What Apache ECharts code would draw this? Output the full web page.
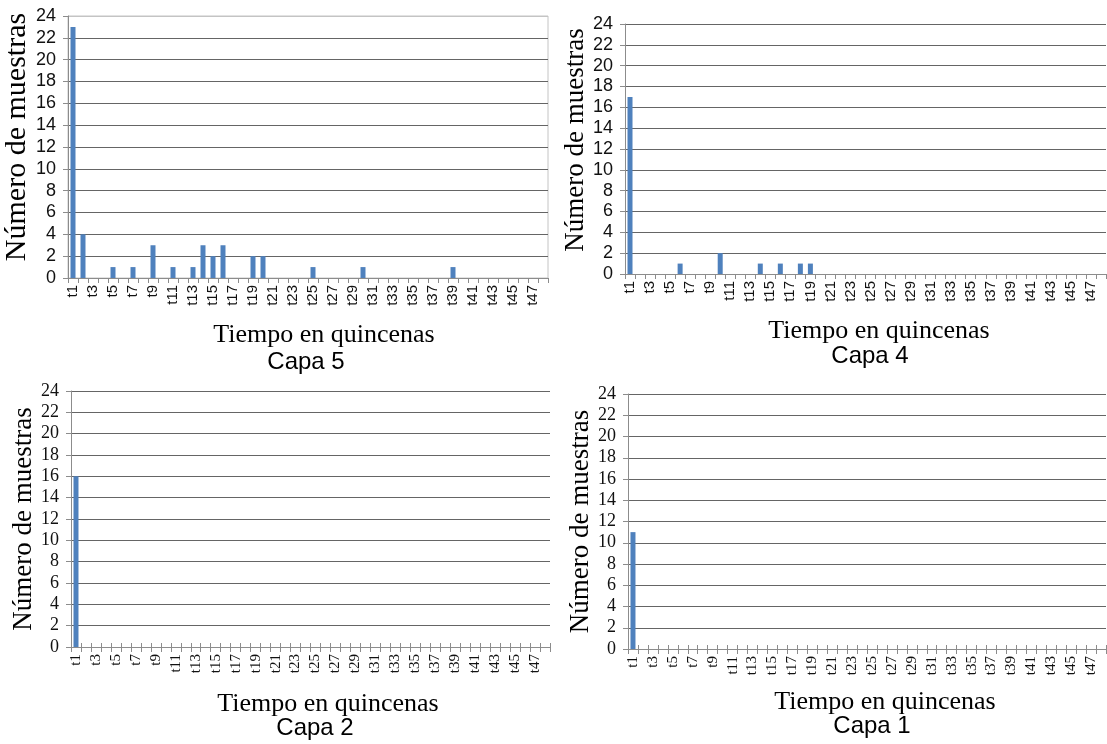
<!DOCTYPE html>
<html>
<head>
<meta charset="utf-8">
<script src="https://cdn.jsdelivr.net/npm/echarts@6/dist/echarts.min.js"></script>
<style>
  html, body { margin: 0; padding: 0; background: #fff; }
  #chart { width: 1107px; height: 744px; }
</style>
</head>
<body>
<div id="chart"></div>
<script>
var quincenas = ['t1', 't2', 't3', 't4', 't5', 't6', 't7', 't8', 't9', 't10', 't11', 't12',
  't13', 't14', 't15', 't16', 't17', 't18', 't19', 't20', 't21', 't22', 't23', 't24',
  't25', 't26', 't27', 't28', 't29', 't30', 't31', 't32', 't33', 't34', 't35', 't36',
  't37', 't38', 't39', 't40', 't41', 't42', 't43', 't44', 't45', 't46', 't47', 't48'];

// muestras por quincena, una lista por capa
var capa5 = [23, 4, 0, 0, 1, 0, 1, 0, 3, 0, 1, 0,
  1, 3, 2, 3, 0, 0, 2, 2, 0, 0, 0, 0,
  1, 0, 0, 0, 0, 1, 0, 0, 0, 0, 0, 0,
  0, 0, 1, 0, 0, 0, 0, 0, 0, 0, 0, 0];
var capa4 = [17, 0, 0, 0, 0, 1, 0, 0, 0, 2, 0, 0,
  0, 1, 0, 1, 0, 1, 1, 0, 0, 0, 0, 0,
  0, 0, 0, 0, 0, 0, 0, 0, 0, 0, 0, 0,
  0, 0, 0, 0, 0, 0, 0, 0, 0, 0, 0, 0];
var capa2 = [16, 0, 0, 0, 0, 0, 0, 0, 0, 0, 0, 0,
  0, 0, 0, 0, 0, 0, 0, 0, 0, 0, 0, 0,
  0, 0, 0, 0, 0, 0, 0, 0, 0, 0, 0, 0,
  0, 0, 0, 0, 0, 0, 0, 0, 0, 0, 0, 0];
var capa1 = [11, 0, 0, 0, 0, 0, 0, 0, 0, 0, 0, 0,
  0, 0, 0, 0, 0, 0, 0, 0, 0, 0, 0, 0,
  0, 0, 0, 0, 0, 0, 0, 0, 0, 0, 0, 0,
  0, 0, 0, 0, 0, 0, 0, 0, 0, 0, 0, 0];

var titulos = ['Capa 5', 'Capa 4', 'Capa 2', 'Capa 1'];
var yMin = 0, yMax = 24, yStep = 2;

var SANS = 'Liberation Sans, Arial, sans-serif';
var SERIF = 'Liberation Serif, Times New Roman, serif';
var gridColor = '#656565';
var axisColor = '#8c8c8c';

// one panel per capa: grid box, fonts and name offsets
var panels = [
  { data: capa5, grid: { left: 68, right: 559, top: 16, bottom: 466 }, tickFont: SANS, tickSize: 18, catSize: 15,
    yGap: 33, yPad: [0, 0, 0, 20], ySize: 30, xGap: 44, xPad: [0, 0, 0, 32], border: true, cross: false, title: [306, 362] },
  { data: capa4, grid: { left: 625, right: 1, top: 24, bottom: 470 }, tickFont: SANS, tickSize: 18, catSize: 15,
    yGap: 26, yPad: [0, 0, 0, 18], ySize: 27, xGap: 44, xPad: [0, 0, 0, 27], border: false, cross: false, title: [870, 356] },
  { data: capa2, grid: { left: 71, right: 557, top: 391, bottom: 97 }, tickFont: SERIF, tickSize: 18, catSize: 15,
    yGap: 29, yPad: 0, ySize: 27, xGap: 44, xPad: [0, 0, 0, 35], border: false, cross: true, title: [315, 728] },
  { data: capa1, grid: { left: 628, right: 1, top: 394, bottom: 95 }, tickFont: SERIF, tickSize: 18, catSize: 15,
    yGap: 31, yPad: 0, ySize: 27, xGap: 40, xPad: [0, 0, 0, 36], border: false, cross: true, title: [872, 726] }
];

var grids = [], xAxes = [], yAxes = [], series = [], texts = [];

panels.forEach(function(p, i) {
  grids.push({
    left: p.grid.left, right: p.grid.right, top: p.grid.top, bottom: p.grid.bottom,
    show: p.border, borderColor: '#c4c4c4', borderWidth: 1
  });

  // top gridline is the light border in the first panel
  var split = [];
  for (var k = 0; k <= (yMax - yMin) / yStep; k++) {
    split.push(p.border && k === (yMax - yMin) / yStep ? '#c4c4c4' : gridColor);
  }

  xAxes.push({
    type: 'category', gridIndex: i, data: quincenas, boundaryGap: true,
    name: 'Tiempo en quincenas', nameLocation: 'middle', nameGap: p.xGap,
    nameTextStyle: { fontFamily: SERIF, fontSize: 26, color: '#000', padding: p.xPad },
    axisLine: { lineStyle: { color: axisColor, width: 1 } },
    axisTick: { show: true, interval: 0, length: 5, lineStyle: { color: axisColor } },
    axisLabel: { interval: 1, rotate: 90, margin: 7, fontFamily: p.tickFont, fontSize: p.catSize, color: '#111' },
    splitLine: { show: false }
  });

  yAxes.push({
    type: 'value', gridIndex: i, min: yMin, max: yMax, interval: yStep,
    name: 'Número de muestras', nameLocation: 'middle', nameGap: p.yGap,
    nameTextStyle: { fontFamily: SERIF, fontSize: p.ySize, color: '#000', padding: p.yPad },
    axisLine: { show: true, lineStyle: { color: axisColor, width: 1 } },
    axisTick: { show: true, length: 5, lineStyle: { color: axisColor } },
    axisLabel: { margin: 12, fontFamily: p.tickFont, fontSize: p.tickSize, color: '#111' },
    splitLine: { show: true, lineStyle: { color: split, width: 1 } }
  });

  series.push({
    type: 'bar', xAxisIndex: i, yAxisIndex: i, data: p.data,
    barWidth: 5, itemStyle: { color: '#4f81bd' }, silent: true
  });

  texts.push({
    type: 'text', x: p.title[0], y: p.title[1],
    style: { text: titulos[i], fontFamily: SANS, fontSize: 24, fill: '#000',
      textAlign: 'center', textVerticalAlign: 'middle' }
  });
});

// bottom row: ticks cross the axis, so add an inner-tick copy of the category axis
panels.forEach(function(p, i) {
  if (!p.cross) return;
  xAxes.push({
    type: 'category', gridIndex: i, data: quincenas, boundaryGap: true, position: 'bottom',
    axisLine: { show: false },
    axisTick: { show: true, inside: true, interval: 0, length: 4, lineStyle: { color: axisColor } },
    axisLabel: { show: false },
    splitLine: { show: false }
  });
});

var myChart = echarts.init(document.getElementById('chart'), null, { renderer: 'canvas' });
myChart.setOption({
  animation: false,
  backgroundColor: '#fff',
  grid: grids,
  xAxis: xAxes,
  yAxis: yAxes,
  series: series,
  graphic: texts
});
</script>
</body>
</html>
